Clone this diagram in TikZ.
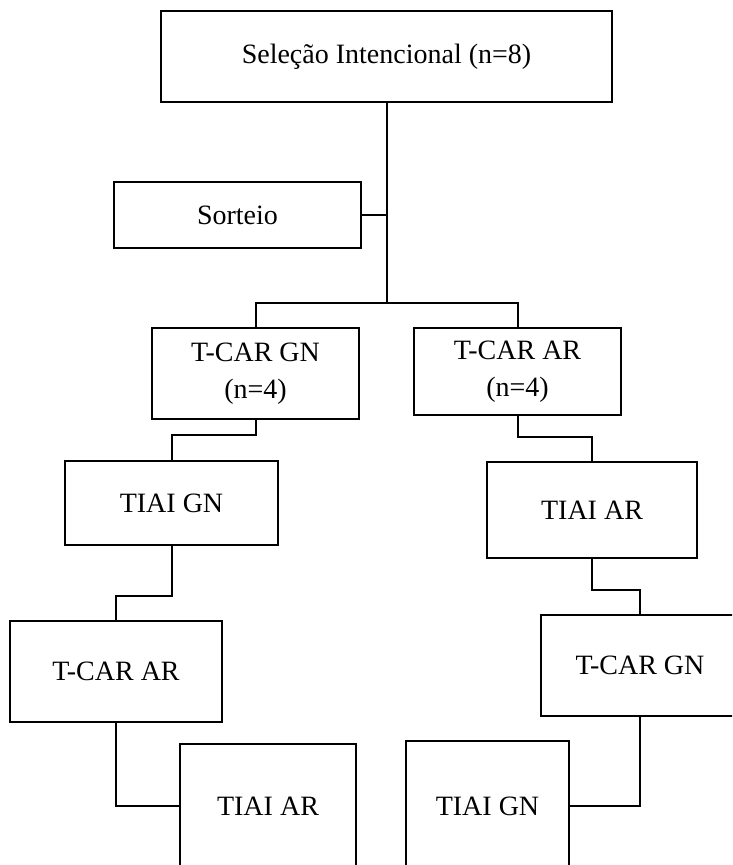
\documentclass[tikz,border=0pt]{standalone}
\usepackage{fontspec}
\setmainfont{Liberation Serif}

\begin{document}
\begin{tikzpicture}[x=1pt,y=-1pt]
\tikzstyle{box} = [rectangle, draw=black, line width=2pt, text centered, align=center, inner sep=0pt, font=\fontsize{28}{37}\selectfont]
\tikzstyle{link} = [line width=2pt]

\useasboundingbox (0,0) rectangle (732,865);
\clip (0,0) rectangle (732,865);

\node [box, minimum width=451pt, minimum height=91pt] (v1) at (386.5,56.5) {Seleção Intencional (n=8)};
\node [box, minimum width=247pt, minimum height=66pt] (v2) at (237.5,215) {Sorteio};

\node [box, minimum width=207pt, minimum height=91pt] (v3) at (255.5,373.5) {T-CAR GN\\(n=4)};
\node [box, minimum width=207pt, minimum height=87pt] (v4) at (517.5,371.5) {T-CAR AR\\(n=4)};
\node [box, minimum width=213pt, minimum height=84pt] (v5) at (171.5,503) {TIAI GN};
\node [box, minimum width=210pt, minimum height=96pt] (v6) at (592,510) {TIAI AR};
\node [box, minimum width=212pt, minimum height=101pt] (v7) at (116,671.5) {T-CAR AR};
\node [box, minimum width=198pt, minimum height=101pt] (v8) at (640,665.5) {T-CAR GN};
\node [box, minimum width=176pt, minimum height=124pt] (v9) at (268,806) {TIAI AR};
\node [box, minimum width=163pt, minimum height=130pt] (v10) at (487.5,806) {TIAI GN};

\draw [link] (v1.south) -- ++(0,200) coordinate (f1);
\draw [link] (v2.east) -- (v2.east -| f1);
\draw [link] (f1) -| (v3.north);
\draw [link] (f1) -| (v4.north);
\draw [link] (v3.south) -- ++(0,15) -| (v5.north);
\draw [link] (v4.south) -- ++(0,21) -| (v6.north);
\draw [link] (v5.south) -- ++(0,50) -| (v7.north);
\draw [link] (v6.south) -- ++(0,31) -| (v8.north);
\draw [link] (v7.south) |- (v9.west);
\draw [link] (v10.east) -| (v8.south);
\end{tikzpicture}
\end{document}
